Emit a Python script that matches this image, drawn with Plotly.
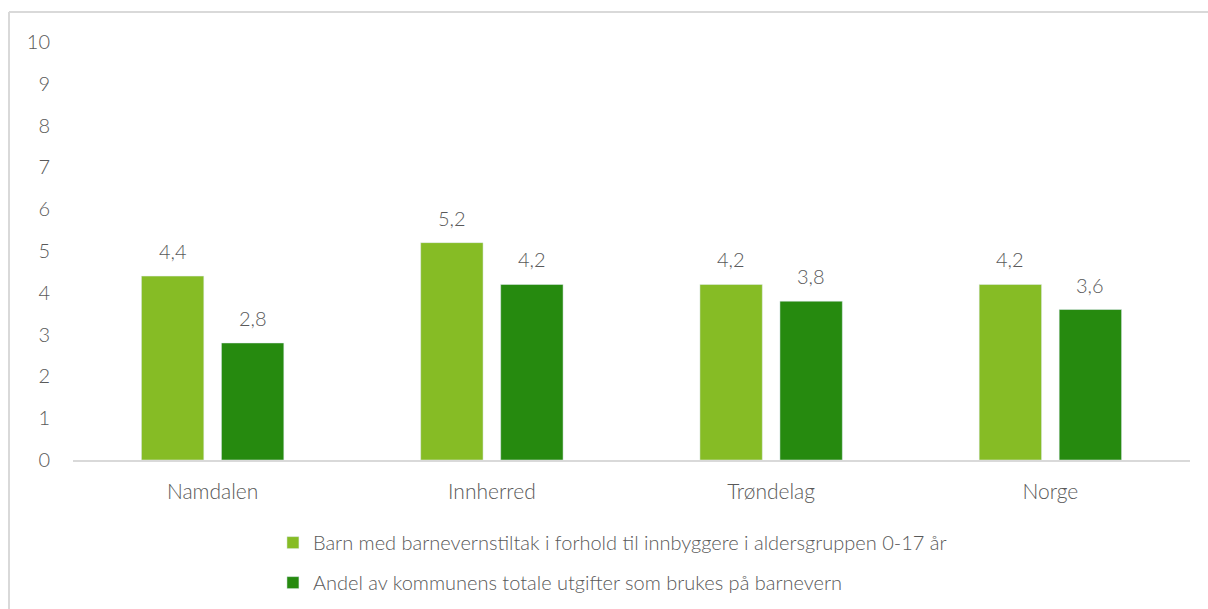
import plotly.graph_objects as go

categories = ["Namdalen", "Innherred", "Trøndelag", "Norge"]
series1_name = "Barn med barnevernstiltak i forhold til innbyggere i aldersgruppen 0-17 år"
series1 = [4.4, 5.2, 4.2, 4.2]
series2_name = "Andel av kommunens totale utgifter som brukes på barnevern"
series2 = [2.8, 4.2, 3.8, 3.6]
y_ticks = list(range(0, 11))

FONT = "Lato"
WEIGHT = 300
GRAY = "#595959"
C1 = "#86BC25"
C2 = "#268A0F"
BARGAP = 0.427
BARGROUPGAP = 0.22

fig = go.Figure()
fig.add_trace(go.Bar(x=categories, y=series1, name=series1_name,
                     marker_color=C1, legendgroup="a"))
fig.add_trace(go.Bar(x=categories, y=series2, name=series2_name,
                     marker_color=C2, legendgroup="b"))

# data labels above each bar (offset = centre of each group slot)
slot = (1 - BARGAP) / 2
annotations = []
for k, vals in enumerate([series1, series2]):
    off = -slot / 2 if k == 0 else slot / 2
    for i, v in enumerate(vals):
        annotations.append(dict(
            x=i + off, y=v, xref="x", yref="y",
            text=f"{v:.1f}".replace(".", ","), showarrow=False,
            yanchor="bottom", yshift=11,
            font=dict(family=FONT, size=20, color=GRAY, weight=WEIGHT),
        ))

W, H = 1208, 609
L, R, T, B = 73, 18, 42, 149
PW, PH = W - L - R, H - T - B

fig.update_layout(
    width=W, height=H,
    margin=dict(l=L, r=R, t=T, b=B, autoexpand=False),
    paper_bgcolor="white", plot_bgcolor="white",
    barmode="group", bargap=BARGAP, bargroupgap=BARGROUPGAP,
    font=dict(family=FONT, color=GRAY, size=20, weight=WEIGHT),
    showlegend=True,
    legend=dict(
        x=0.179, y=-0.151, xanchor="left", yanchor="top",
        orientation="v", tracegroupgap=11,
        font=dict(family=FONT, size=20, color=GRAY, weight=WEIGHT),
        itemwidth=30,
    ),
    xaxis=dict(
        showline=True, linecolor="#D9D9D9", linewidth=2,
        ticks="", showgrid=False, ticklabelstandoff=12,
        tickfont=dict(family=FONT, size=21, color=GRAY, weight=WEIGHT),
    ),
    yaxis=dict(
        range=[0, 10], tickvals=y_ticks, showgrid=False, zeroline=False,
        showline=False, ticks="", ticklabelstandoff=22,
        tickfont=dict(family=FONT, size=20, color=GRAY, weight=WEIGHT),
    ),
    annotations=annotations,
    shapes=[
        dict(type="line", xref="paper", yref="paper",
             x0=(9 - L) / PW, x1=(W - L) / PW,
             y0=1 + (T - 12) / PH, y1=1 + (T - 12) / PH,
             line=dict(color="#D9D9D9", width=2)),
        dict(type="line", xref="paper", yref="paper",
             x0=(9 - L) / PW, x1=(9 - L) / PW,
             y0=1 + (T - 12) / PH, y1=-B / PH,
             line=dict(color="#D9D9D9", width=2)),
    ],
)

fig.write_html(
    "out.html",
    config={"displayModeBar": False},
    post_script="document.body.style.margin='0';document.body.style.overflow='hidden';",
)
